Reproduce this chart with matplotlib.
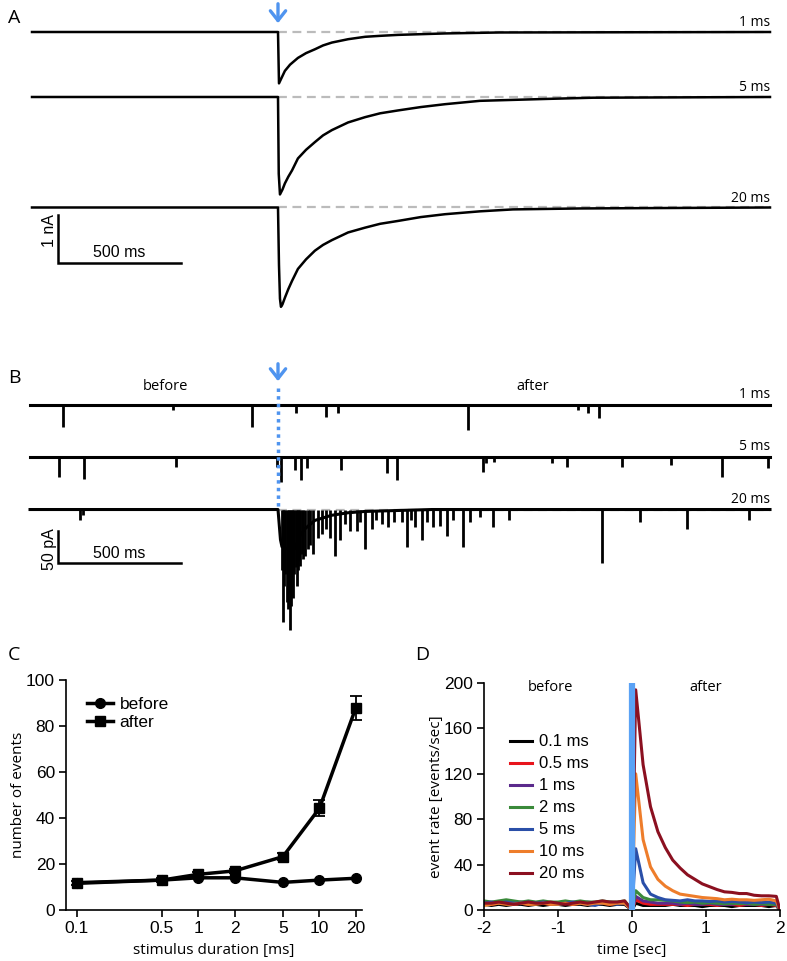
import matplotlib.pyplot as plt
import numpy as np
from matplotlib.lines import Line2D

plt.rcParams['font.family'] = ['Liberation Sans', 'DejaVu Sans']
plt.rcParams['axes.unicode_minus'] = False

# ---------------- data ----------------
# panel A: evoked currents (time ms after stimulus, current nA)
a1_t = [-1000, 0, 4, 28, 49, 81, 114, 150, 183, 219, 285, 354, 415, 488, 679, 900, 2000]
a1_i = [0, 0, -1.07, -0.81, -0.68, -0.54, -0.44, -0.36, -0.28, -0.22, -0.15, -0.10, -0.08, -0.06, -0.03, -0.01, 0]
a2_t = [-1000, 0, 3, 8, 18, 28, 42, 57, 81, 114, 150, 183, 219, 285, 354, 415, 488, 580, 679, 821, 1093, 1280, 2000]
a2_i = [0, 0, -1.6, -2.03, -1.93, -1.80, -1.66, -1.53, -1.28, -1.10, -0.94, -0.80, -0.69, -0.53, -0.42, -0.34,
        -0.28, -0.21, -0.15, -0.08, -0.04, -0.015, 0]
a3_t = [-1000, 0, 4, 8, 12, 18, 28, 42, 57, 81, 114, 150, 183, 219, 285, 354, 415, 488, 580, 679, 821, 955, 1228,
        2000]
a3_i = [0, 0, -1.2, -1.9, -2.07, -2.02, -1.88, -1.70, -1.53, -1.28, -1.08, -0.90, -0.78, -0.68, -0.52, -0.42,
        -0.34, -0.28, -0.20, -0.14, -0.08, -0.04, -0.02, 0]
a_labels = ['1 ms', '5 ms', '20 ms']

# panel B: spontaneous events (time ms, amplitude pA)
b1_ev_t = [-874, -427, -106, 73, 195, 244, 772, 1220, 1260, 1305]
b1_ev_a = [34, 8, 34, 12, 19, 12, 39, 8, 12, 20]
b2_ev_t = [-890, -789, -415, -4, 12, 69, 93, 118, 256, 443, 484, 833, 846, 878, 1114, 1175, 1398, 1598, 1805, 1992]
b2_ev_a = [31, 34, 16, 16, 39, 20, 36, 17, 20, 25, 36, 23, 9, 8, 9, 16, 16, 12, 31, 17]
b3_ev_t = [-805, -793, 15, 21, 25, 30, 35, 41, 45, 49, 53, 56, 62, 66, 72, 76, 81, 86, 89, 96, 102, 110, 122, 130,
           144, 164, 179, 195, 211, 232, 252, 272, 293, 320, 333, 354, 381, 398, 422, 448, 472, 503, 523, 541, 557,
           584, 606, 631, 659, 686, 711, 753, 780, 821, 874, 939, 1317, 1472, 1663, 1915]
b3_ev_a = [16, 9, 94, 175, 120, 100, 144, 156, 130, 189, 150, 109, 139, 100, 90, 119, 94, 80, 88, 70, 78, 72, 62,
           55, 70, 45, 39, 31, 44, 73, 48, 23, 34, 33, 19, 61, 30, 16, 22, 27, 19, 19, 58, 16, 27,
           48, 19, 27, 25, 42, 16, 58, 19, 12, 27, 16, 83, 20, 31, 16]
b3_env_t = [-1008, 0, 10, 16, 28, 69, 83, 110, 150, 218, 286, 354, 488, 626, 2000]
b3_env_a = [0, 0, 47, 58, 61, 61, 45, 30, 17, 9, 5, 3, 1.5, 0, 0]

# panel C: number of events vs stimulus duration
durations = [0.1, 0.5, 1, 2, 5, 10, 20]
n_before = [11.9, 13.0, 14.0, 14.0, 12.0, 13.0, 13.8]
n_after = [11.6, 13.0, 15.5, 17.0, 23.2, 44.2, 88.0]
n_after_err = [0.8, 0.8, 0.9, 1.0, 1.5, 3.5, 5.2]

# panel D: event rate histograms
t_before = [-2.0, -1.9, -1.8, -1.7, -1.6, -1.5, -1.4, -1.3, -1.2, -1.1,
            -1.0, -0.9, -0.8, -0.7, -0.6, -0.5, -0.4, -0.3, -0.2, -0.1]
t_after = [0.05, 0.15, 0.25, 0.35, 0.45, 0.55, 0.65, 0.75, 0.85, 0.95,
           1.05, 1.15, 1.25, 1.35, 1.45, 1.55, 1.65, 1.75, 1.85, 1.95]
rate_labels = ['0.1 ms', '0.5 ms', '1 ms', '2 ms', '5 ms', '10 ms', '20 ms']
rate_colors = ['#000000', '#e8141c', '#5b2a8c', '#3a8a3a', '#2a4fa8', '#ee7d2b', '#8b1020']
rate_before = [
    [5, 4, 5, 4, 5, 5, 4, 5, 4, 5, 5, 4, 5, 5, 4, 5, 5, 4, 5, 5],
    [6, 5, 6, 6, 5, 6, 5, 6, 6, 5, 6, 6, 5, 6, 5, 6, 6, 5, 6, 6],
    [7, 6, 6, 7, 6, 7, 6, 6, 7, 6, 6, 7, 6, 6, 7, 6, 6, 7, 6, 7],
    [8, 7, 8, 9, 8, 7, 8, 7, 8, 7, 7, 8, 7, 8, 7, 7, 8, 7, 7, 8],
    [6, 7, 6, 7, 6, 6, 7, 6, 7, 6, 5, 6, 7, 6, 5, 4, 6, 6, 5, 6],
    [4, 5, 6, 5, 5, 6, 5, 5, 6, 5, 5, 6, 5, 6, 5, 6, 6, 5, 6, 6],
    [6, 6, 7, 6, 5, 6, 7, 6, 6, 7, 6, 5, 6, 7, 6, 7, 8, 7, 7, 8],
]
rate_after = [
    [6, 4, 4, 4, 4, 5, 4, 4, 4, 3, 4, 4, 4, 3, 4, 4, 4, 4, 3, 4],
    [9, 6, 5, 5, 5, 5, 5, 4, 5, 5, 5, 4, 5, 5, 4, 5, 5, 4, 5, 4],
    [12, 8, 7, 6, 6, 6, 5, 6, 5, 5, 6, 5, 5, 5, 6, 5, 5, 5, 5, 5],
    [17, 11, 9, 9, 8.5, 8, 7, 6.5, 7, 6, 6.5, 6, 5.5, 6, 5.5, 6, 5, 5.5, 5, 5],
    [54, 24, 14, 11, 9, 8.5, 8, 9, 8, 8, 7.5, 8, 7, 7.5, 7, 6.5, 7, 6.5, 7, 6],
    [120, 62, 38, 27, 21, 17, 14, 13, 12, 11, 10.5, 10, 9, 9.5, 9, 9, 8.5, 9, 9.5, 8],
    [194, 128, 91, 69, 55, 44, 37, 31, 27, 23, 20.5, 18, 16, 15.5, 14.5, 14.5, 13, 12.5, 12.5, 12],
]

# ---------------- figure ----------------
W, H = 787, 961
fig = plt.figure(figsize=(W / 100, H / 100), dpi=100)
blue = '#4f94ef'
ms_px = 500 / 123.0
letter_font = dict(family=['Open Sans', 'DejaVu Sans'], fontsize=14)
lab_font = ['Open Sans', 'DejaVu Sans']
arrow_style = dict(arrowstyle='->,head_width=0.55,head_length=0.7', color=blue, lw=2.4)


def trace_axes(y0, y1):
    ax = fig.add_axes([0, 1 - y1 / H, 1, (y1 - y0) / H])
    ax.set_xlim(-278 * ms_px, (W - 278) * ms_px)
    ax.axis('off')
    return ax


# ---- A ----
axA = trace_axes(0, 330)
nA_px = 1 / 48.0
axA.set_ylim(0.6667 - 330 * nA_px, 0.6667)
offsA = [0, -1.354, -3.656]
for off, tt, ii, lab in zip(offsA, [a1_t, a2_t, a3_t], [a1_i, a2_i, a3_i], a_labels):
    axA.plot([0, 2000], [off, off], color='#bbbbbb', lw=1.6, ls=(0, (4, 2.5)), zorder=1)
    axA.plot(tt, np.array(ii) + off, color='black', lw=1.8, zorder=2)
    axA.text(2000, off + 0.04, lab, ha='right', va='bottom', fontsize=10, family=lab_font)
axA.annotate('', xy=(0, 0.6667 - 26 * nA_px), xytext=(0, 0.6667 - 1 * nA_px), arrowprops=arrow_style)
sbx = (58 - 278) * ms_px
axA.plot([sbx, sbx, sbx + 500], [-3.812, -4.813, -4.813], color='black', lw=1.8, solid_joinstyle='miter')
axA.text(sbx + 250, -4.74, '500 ms', ha='center', va='bottom', fontsize=11.5)
axA.text(sbx - 9 * ms_px, -4.146, '1 nA', ha='center', va='center', rotation=90, fontsize=11.5)

# ---- B ----
axB = trace_axes(330, 650)
pA_px = 1.5625
axB.set_ylim(117.2 - 320 * pA_px, 117.2)
offsB = [0, -81.25, -163.3]
b_events = [(b1_ev_t, b1_ev_a), (b2_ev_t, b2_ev_a), (b3_ev_t, b3_ev_a)]
axB.plot([0, 2000], [offsB[2], offsB[2]], color='#bbbbbb', lw=1.6, ls=(0, (4, 2.5)), zorder=1)
for k, (off, (et, ea), lab) in enumerate(zip(offsB, b_events, a_labels)):
    if k == 2:
        axB.plot(b3_env_t, offsB[2] - np.array(b3_env_a), color='black', lw=2.2, zorder=2)
    else:
        axB.plot([-1008, 2000], [off, off], color='black', lw=2.2, zorder=2)
    axB.vlines(et, off - np.array(ea), off, color='black', lw=2.0, zorder=2)
    axB.text(2000, off + 4, lab, ha='right', va='bottom', fontsize=10, family=lab_font)
axB.plot([0, 0], [26.6, offsB[2]], color=blue, lw=2.5, ls=(0, (1, 1.2)), zorder=3)
axB.annotate('', xy=(0, 117.2 - 54 * pA_px), xytext=(0, 117.2 - 31 * pA_px), arrowprops=arrow_style)
axB.plot([sbx, sbx, sbx + 500], [-196.9, -246.9, -246.9], color='black', lw=1.8, solid_joinstyle='miter')
axB.text(sbx + 250, -243, '500 ms', ha='center', va='bottom', fontsize=11.5)
axB.text(sbx - 9 * ms_px, -225, '50 pA', ha='center', va='center', rotation=90, fontsize=11.5)
axB.text((165 - 278) * ms_px, 29.7, 'before', ha='center', va='center', fontsize=10.5, family=lab_font)
axB.text((533 - 278) * ms_px, 29.7, 'after', ha='center', va='center', fontsize=10.5, family=lab_font)

# ---- C ----
axC = fig.add_axes([66 / W, 1 - 910 / H, 296 / W, 230 / H])
axC.plot(durations, n_before, color='black', lw=2.5, marker='o', ms=7, zorder=3)
axC.errorbar(durations, n_after, yerr=n_after_err, color='black', lw=2.5, marker='s', ms=7,
             capsize=4, elinewidth=1.3, capthick=1.3, zorder=3)
axC.set_xscale('log')
axC.set_xlim(10 ** (-1 - 11 / 121.2), 10 ** (-1 + 285 / 121.2))
axC.set_ylim(0, 100)
axC.set_xticks(durations)
axC.set_xticklabels(['0.1', '0.5', '1', '2', '5', '10', '20'])
axC.minorticks_off()
axC.set_yticks([0, 20, 40, 60, 80, 100])
axC.set_ylabel('number of events', fontsize=11, family=lab_font, labelpad=0)
axC.set_xlabel('stimulus duration [ms]', fontsize=11, family=lab_font, labelpad=5)
c_handles = [Line2D([], [], color='black', lw=2.5, marker='o', ms=7),
             Line2D([], [], color='black', lw=2.5, marker='s', ms=7)]
axC.legend(c_handles, ['before', 'after'], loc='upper left', bbox_to_anchor=(0.04, 0.965), frameon=False,
           fontsize=12.5, handlelength=1.5, handletextpad=0.4, labelspacing=0.15, borderpad=0)

# ---- D ----
axD = fig.add_axes([484 / W, 1 - 910 / H, 296 / W, 227 / H])
for lab, col, rb, ra in zip(rate_labels, rate_colors, rate_before, rate_after):
    tt = t_before + [0.0] + t_after + [2.0]
    rr = rb + [0] + ra + [0]
    axD.plot(tt, rr, color=col, lw=2.2, label=lab, zorder=2)
axD.plot([0, 0], [0, 200], color='#5aa2f5', lw=4.5, solid_capstyle='butt', zorder=4)
axD.set_xlim(-2, 2)
axD.set_ylim(0, 200)
axD.set_xticks([-2, -1, 0, 1, 2])
axD.set_yticks([0, 40, 80, 120, 160, 200])
axD.set_ylabel('event rate [events/sec]', fontsize=11, family=lab_font, labelpad=0)
axD.set_xlabel('time [sec]', fontsize=11, family=lab_font, labelpad=5)
axD.text(-1.1, 196, 'before', ha='center', va='center', fontsize=10.5, family=lab_font)
axD.text(0.99, 196, 'after', ha='center', va='center', fontsize=10.5, family=lab_font)
axD.legend(loc='upper left', bbox_to_anchor=(0.06, 0.81), frameon=False, fontsize=12,
           handlelength=1.3, handletextpad=0.45, labelspacing=0.42, borderpad=0)

for ax in (axC, axD):
    ax.spines['top'].set_visible(False)
    ax.spines['right'].set_visible(False)
    ax.spines['left'].set_linewidth(1.2)
    ax.spines['bottom'].set_linewidth(1.2)
    ax.tick_params(direction='out', length=5, width=1.2, labelsize=12.5, pad=3)

fig.text(8 / W, 1 - 18 / H, 'A', ha='left', va='center', **letter_font)
fig.text(8 / W, 1 - 378 / H, 'B', ha='left', va='center', **letter_font)
fig.text(8 / W, 1 - 655 / H, 'C', ha='left', va='center', **letter_font)
fig.text(415 / W, 1 - 655 / H, 'D', ha='left', va='center', **letter_font)

fig.savefig('out.png', dpi=100)
